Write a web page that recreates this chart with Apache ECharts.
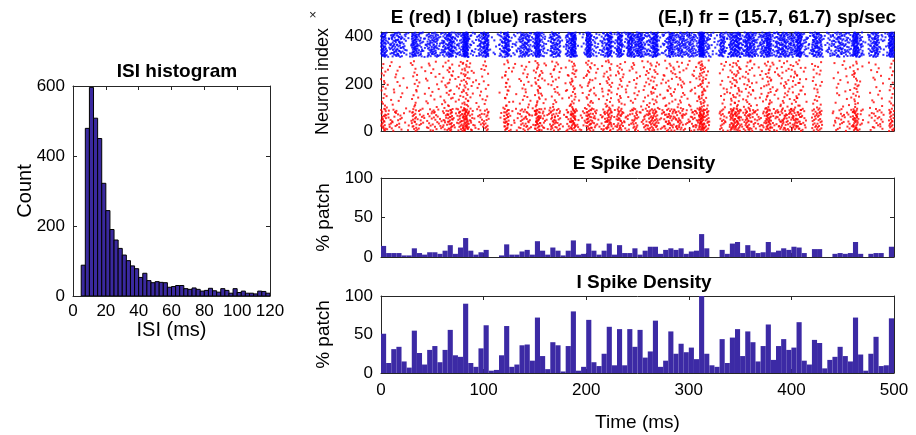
<!DOCTYPE html>
<html><head><meta charset="utf-8">
<script src="https://cdn.jsdelivr.net/npm/echarts@6/dist/echarts.min.js"></script>
<style>html,body{margin:0;padding:0;background:#fff}#c{width:916px;height:435px}</style>
</head><body><div id="c"></div>
<script>
// ---- data ----
const isiBinStart = 5;          // ms
const isiBinWidth = 2.5;        // ms
const isiCounts = [88,479,596,508,450,322,244,190,160,136,117,101,
  86,78,53,65,44,38,41,39,38,25,27,30,30,21,19,23,19,14,16,22,
  15,11,21,16,8,21,10,14,8,8,6,14,13,8];
const isiTicks = [0,20,40,60,80,100,120];
const countTicks = [0,200,400,600];

const densityBinMs = 5;
const eDensity = [14,5,5,5,2,2,11,5,3,6, 6,4,8,15,4,12,24,8,3,6,
  9,0,0,2,16,3,3,7,9,3, 20,8,3,12,8,2,8,21,3,4,
  17,8,3,8,17,3,15,5,
  5,11,3,8,13,13,4,9,11,9, 11,4,7,8,29,11,0,0,9,4,
  17,19,5,15,8,5,6,19,6,8, 11,9,13,12,5,0,10,10,0,0,
  4,5,4,5,19,4,0,4,5,5, 0,13];
const iDensity = [51,13,31,34,15,7,55,26,11,30, 35,14,30,56,23,21,90,13,8,32,
  62,3,4,23,61,8,11,36,37,16, 72,22,5,40,36,2,35,80,3,8,
  69,14,9,25,60,10,57,10,
  57,34,56,20,28,68,8,16,54,25, 38,27,33,18,100,25,10,8,44,13,
  46,57,22,54,40,15,35,63,17,35, 44,30,33,66,16,11,43,39,6,17,
  21,34,22,15,72,24,3,25,47,9, 10,71];
const timeTicks = [0,100,200,300,400,500];
const neuronTicks = [0,200,400];
const pctTicks = [0,50,100];

// neuron index layout of the raster
const eNeuronCount = 300;          // E rows 0..300 (red)
const eDenseBandTop = 95;          // denser red band at the bottom
const iNeuronFirst = 314;          // I rows (blue)
const iNeuronCount = 104;

// ---- build raster marks from the density data (evenly scattered, Halton order) ----
function radInv(n, base) { let r = 0, f = 1 / base; while (n > 0) { r += f * (n % base); n = Math.floor(n / base); f /= base; } return r; }
function rasterFromDensity(density, nNeur, rowOf, seed) {
  const pts = []; let k = seed;
  density.forEach((pct, b) => {
    const n = Math.round(pct / 100 * nNeur);
    for (let j = 0; j < n; j++) {
      k++;
      const u = radInv(k, 3), v = radInv(k, 2);
      pts.push([b * densityBinMs + u * densityBinMs, rowOf(v)]);
    }
  });
  return pts;
}
const redPts = rasterFromDensity(eDensity, eNeuronCount, v =>
  v < 0.6 ? v / 0.6 * eDenseBandTop : eDenseBandTop + (v - 0.6) / 0.4 * (eNeuronCount - eDenseBandTop), 1);
const bluePts = rasterFromDensity(iDensity, iNeuronCount, v => iNeuronFirst + v * iNeuronCount, 7);

const isiBars = isiCounts.map((c, k) => [isiBinStart + k * isiBinWidth, c, isiBinStart + (k + 1) * isiBinWidth]);
const eBars = eDensity.map((p, k) => [k * densityBinMs, p, (k + 1) * densityBinMs]);
const iBars = iDensity.map((p, k) => [k * densityBinMs, p, (k + 1) * densityBinMs]);

// ---- chart ----
const FONT = 'Liberation Sans, Arial, Helvetica, sans-serif';
const AX = '#262626';
const grids = [
  {left: 73, top: 86, width: 197, height: 210},   // ISI histogram
  {left: 381, top: 32, width: 513, height: 99},   // raster
  {left: 381, top: 178, width: 513, height: 79},  // E density
  {left: 381, top: 296, width: 513, height: 77}   // I density
];
const xAxes = [], yAxes = [];
function addAxes(g, xr, yr, showXLabels, xName, yName, yNameGap, xNameGap, showMaxY, nameSize, xLabelMargin) {
  const common = (pos, r, show, name, gap, isY) => ({
    type: 'value', gridIndex: g, position: pos, min: r[0], max: r[1], interval: r[2],
    axisLine: {show: true, onZero: false, lineStyle: {color: AX, width: 1}},
    axisTick: {show: true, inside: true, length: 4, lineStyle: {color: AX}},
    axisLabel: {show: show, color: '#000', fontSize: 17, fontFamily: FONT, margin: isY ? 8 : xLabelMargin,
      showMinLabel: true, showMaxLabel: isY ? showMaxY : true},
    splitLine: {show: false},
    name: name || '', nameLocation: 'middle', nameGap: gap || 0, nameRotate: isY ? 90 : 0,
    nameMoveOverlap: false,
    nameTextStyle: {color: '#000', fontSize: nameSize, fontFamily: FONT}
  });
  xAxes.push(common('bottom', xr, showXLabels, xName, xNameGap, false));
  xAxes.push(common('top', xr, false, '', 0, false));
  yAxes.push(common('left', yr, true, yName, yNameGap, true));
  yAxes.push(common('right', yr, false, '', 0, true));
}
addAxes(0, [0, 120, 20], [0, 600, 200], true, 'ISI (ms)', 'Count', 38, 24, true, 20, 7);
addAxes(1, [0, 500, 100], [0, 420, 200], false, '', 'Neuron index', 49, 0, false, 18, 9);
addAxes(2, [0, 500, 100], [0, 100, 50], false, '', '% patch', 48, 0, true, 19, 9);
addAxes(3, [0, 500, 100], [0, 100, 50], true, 'Time (ms)', '% patch', 48, 40, true, 19, 9);

function rectRender(fill, stroke, lw) {
  return function (params, api) {
    const p0 = api.coord([api.value(0), api.value(1)]);
    const p1 = api.coord([api.value(2), 0]);
    return {type: 'rect', shape: {x: p0[0], y: p0[1], width: p1[0] - p0[0], height: p1[1] - p0[1]},
      style: {fill: fill, stroke: stroke, lineWidth: lw}};
  };
}
const titleStyle = {color: '#000', fontSize: 19, fontWeight: 'bold', fontFamily: FONT};
const option = {
  animation: false,
  backgroundColor: '#fff',
  title: [
    {text: 'ISI histogram', left: 172, top: 57, textAlign: 'center', textStyle: titleStyle},
    {text: 'E (red) I (blue) rasters', left: 484, top: 3, textAlign: 'center', textStyle: titleStyle},
    {text: '(E,I) fr = (15.7, 61.7) sp/sec', left: 772, top: 3, textAlign: 'center', textStyle: titleStyle},
    {text: 'E Spike Density', left: 639, top: 149, textAlign: 'center', textStyle: titleStyle},
    {text: 'I Spike Density', left: 639, top: 268, textAlign: 'center', textStyle: titleStyle}
  ],
  graphic: [{type: 'text', left: 309, top: 9, style: {text: '×', fontSize: 13, fill: '#222', fontFamily: FONT}}],
  grid: grids,
  xAxis: xAxes,
  yAxis: yAxes,
  series: [
    {type: 'custom', xAxisIndex: 0, yAxisIndex: 0, data: isiBars, encode: {x: [0, 2], y: 1},
      renderItem: rectRender('#3a299f', '#000', 1), clip: true},
    {type: 'scatter', xAxisIndex: 2, yAxisIndex: 2, data: redPts, symbol: 'rect', symbolSize: 2,
      itemStyle: {color: '#ff0000'}, silent: true, clip: true},
    {type: 'scatter', xAxisIndex: 2, yAxisIndex: 2, data: bluePts, symbol: 'rect', symbolSize: 2,
      itemStyle: {color: '#0000ff'}, silent: true, clip: true},
    {type: 'custom', xAxisIndex: 4, yAxisIndex: 4, data: eBars, encode: {x: [0, 2], y: 1},
      renderItem: rectRender('#3c2aa5', null, 0), clip: true},
    {type: 'custom', xAxisIndex: 6, yAxisIndex: 6, data: iBars, encode: {x: [0, 2], y: 1},
      renderItem: rectRender('#3c2aa5', null, 0), clip: true}
  ]
};
const chart = echarts.init(document.getElementById('c'), null, {renderer: 'canvas'});
chart.setOption(option);
</script></body></html>
